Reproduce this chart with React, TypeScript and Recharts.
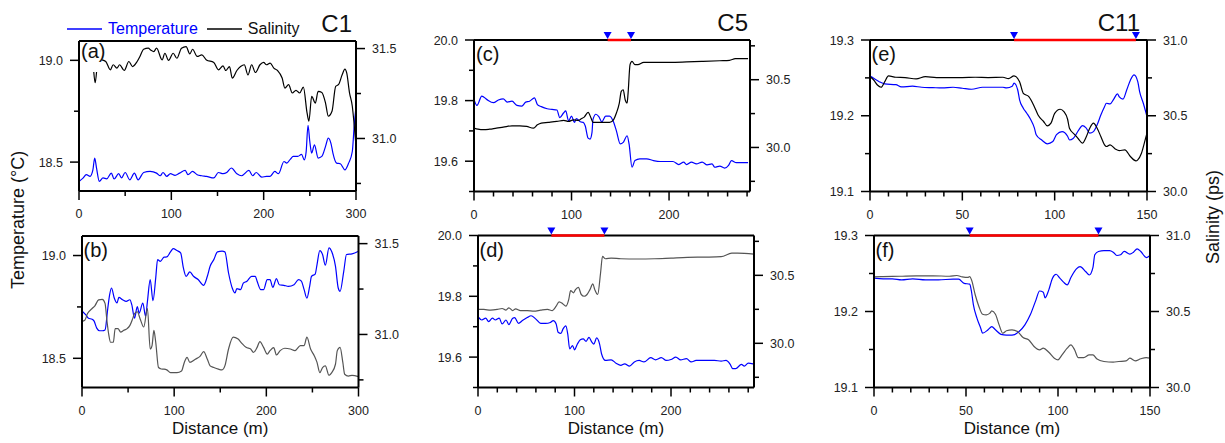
import React from 'react';
import { LineChart, Line, XAxis, YAxis, ReferenceLine, ReferenceDot, Legend } from 'recharts';

type Pt = [number, number | null];

const FONT = '"Liberation Sans", Arial, Helvetica, sans-serif';
const BLUE = '#0000ff';

// ---- C1 ----
const aTemp: Pt[] = [
  [0, 18.405], [4, 18.42], [8, 18.438], [12, 18.43], [15, 18.46], [17, 18.52], [19, 18.47], [22, 18.405],
  [26, 18.422], [30, 18.418], [35, 18.446], [38, 18.417], [43, 18.443], [46, 18.422], [50, 18.449], [55, 18.413],
  [60, 18.446], [64, 18.413], [70, 18.449], [77, 18.454], [84, 18.446], [88, 18.433], [91, 18.449], [95, 18.43],
  [99, 18.443], [104, 18.435], [109, 18.446], [115, 18.459], [118, 18.438], [123, 18.454], [128, 18.438],
  [133, 18.433], [138, 18.43], [146, 18.422], [151, 18.449], [156, 18.443], [160, 18.449], [165, 18.471],
  [171, 18.443], [176, 18.433], [184, 18.459], [188, 18.433], [192, 18.449], [198, 18.426], [203, 18.43],
  [207, 18.43], [212, 18.454], [216, 18.443], [222, 18.503], [225, 18.495], [229, 18.515], [232, 18.528],
  [237, 18.528], [241, 18.538], [244, 18.511], [246, 18.55], [248, 18.68], [250, 18.6], [252, 18.544],
  [255, 18.585], [259, 18.52], [263, 18.528], [267, 18.577], [270, 18.618], [273, 18.59], [275, 18.544],
  [279, 18.495], [283, 18.492], [288, 18.462], [292, 18.495], [296, 18.552], [298, 18.675], [300, 18.773],
];
const aSal: Pt[] = [
  [16, 31.37], [17.5, 31.31], [19, 31.37], [21, null],
  [25, 31.437], [29, 31.428], [34, 31.382], [37, 31.41], [41, 31.391], [44, 31.41], [49, 31.378], [54, 31.428],
  [58, 31.4], [63, 31.428], [66, 31.456], [70, 31.496], [75, 31.502], [78, 31.49], [81, 31.483], [84, 31.502],
  [90, 31.437], [93, 31.474], [97, 31.434], [102, 31.474], [106, 31.446], [111, 31.502], [116, 31.511],
  [120, 31.47], [123, 31.496], [128, 31.456], [133, 31.465], [138, 31.437], [146, 31.423], [151, 31.382],
  [156, 31.404], [159, 31.378], [163, 31.4], [166, 31.336], [171, 31.378], [175, 31.4], [179, 31.41],
  [183, 31.354], [187, 31.41], [191, 31.367], [196, 31.41], [200, 31.423], [203, 31.41], [207, 31.419],
  [211, 31.391], [215, 31.378], [220, 31.336], [223, 31.28], [227, 31.299], [231, 31.253], [235, 31.268],
  [239, 31.253], [243, 31.286], [247, 31.142], [249, 31.096], [252, 31.234], [256, 31.197], [259, 31.262],
  [263, 31.256], [267, 31.197], [270, 31.124], [274, 31.151], [278, 31.29], [281, 31.299], [285, 31.354],
  [288, 31.386], [290, 31.363], [293, 31.253], [296, 31.179], [298, 31.077], [300, 30.958],
];
const bTemp: Pt[] = [
  [0, 18.731], [4, 18.712], [7, 18.695], [11, 18.69], [13, 18.682], [16, 18.647], [19, 18.634], [22, 18.634],
  [25, 18.638], [28, 18.744], [30, 18.81], [32, 18.842], [35, 18.793], [38, 18.769], [40, 18.796], [44, 18.785],
  [48, 18.777], [52, 18.785], [54, 18.761], [57, 18.695], [60, 18.752], [62, 18.72], [66, 18.769], [69, 18.704],
  [71, 18.777], [74, 18.883], [77, 18.78], [80, 18.891], [82, 18.98], [85, 18.972], [89, 18.992], [92, 18.993],
  [96, 19.018], [99, 19.034], [103, 19.024], [107, 19.013], [110, 18.94], [113, 18.899], [117, 18.92],
  [121, 18.899], [126, 18.883], [132, 18.855], [136, 18.899], [139, 18.948], [143, 18.98], [147, 19.018],
  [152, 19.021], [155, 19.018], [159, 18.915], [163, 18.842], [166, 18.818], [168, 18.839], [172, 18.834],
  [175, 18.866], [179, 18.875], [184, 18.899], [188, 18.899], [190, 18.875], [194, 18.834], [197, 18.834],
  [201, 18.883], [204, 18.883], [207, 18.845], [211, 18.888], [214, 18.858], [219, 18.855], [224, 18.85],
  [230, 18.858], [235, 18.883], [238, 18.875], [241, 18.834], [244, 18.793], [247, 18.85], [249, 18.899],
  [253, 18.91], [255, 18.956], [258, 19.024], [261, 19.005], [264, 18.953], [268, 19.037], [271, 19.018],
  [275, 18.948], [278, 18.842], [280, 18.826], [284, 18.923], [287, 19.005], [293, 19.008], [300, 19.021],
];
const bSal: Pt[] = [
  [0, 31.072], [3, 31.078], [6, 31.115], [11, 31.143], [14, 31.158], [18, 31.19], [22, 31.193], [25, 31.171],
  [27, 31.078], [29, 31.0], [31, 30.957], [34, 30.957], [36, 31.032], [39, 31.032], [42, 31.013], [45, 31.022],
  [49, 31.032], [52, 31.05], [55, 31.087], [57, 31.115], [60, 31.125], [63, 31.087], [67, 31.041], [71, 31.143],
  [74, 30.92], [76, 30.939], [78, 31.022], [80, 30.957], [83, 30.818], [86, 30.81], [89, 30.809], [92, 30.805],
  [96, 30.79], [103, 30.79], [108, 30.799], [111, 30.846], [114, 30.874], [117, 30.846], [123, 30.864],
  [128, 30.879], [132, 30.905], [136, 30.864], [139, 30.827], [143, 30.818], [148, 30.809], [152, 30.805],
  [155, 30.827], [159, 30.92], [164, 30.985], [169, 30.976], [174, 30.948], [178, 30.929], [183, 30.92],
  [186, 30.901], [190, 30.929], [193, 30.961], [197, 30.929], [201, 30.892], [204, 30.911], [208, 30.928],
  [211, 30.887], [215, 30.911], [220, 30.924], [226, 30.92], [231, 30.911], [237, 30.939], [241, 30.939],
  [244, 30.985], [248, 30.92], [252, 30.883], [255, 30.846], [258, 30.79], [261, 30.818], [264, 30.827],
  [268, 30.775], [271, 30.79], [275, 30.836], [277, 30.911], [280, 30.929], [283, 30.846], [285, 30.781],
  [289, 30.771], [293, 30.775], [300, 30.768],
];

// ---- C5 ----
const cTemp: Pt[] = [
  [0, 19.804], [3, 19.784], [8, 19.815], [13, 19.804], [20, 19.793], [25, 19.802], [30, 19.806], [34, 19.795],
  [39, 19.798], [44, 19.784], [49, 19.782], [53, 19.795], [57, 19.798], [62, 19.809], [65, 19.787], [69, 19.78],
  [75, 19.773], [80, 19.771], [85, 19.769], [88, 19.744], [92, 19.76], [94, 19.766], [97, 19.733], [100, 19.749],
  [103, 19.728], [105, 19.741], [109, 19.73], [112, 19.728], [114, 19.717], [117, 19.676], [119, 19.673],
  [121, 19.695], [122, 19.738], [125, 19.755], [128, 19.747], [131, 19.73], [135, 19.749], [139, 19.749],
  [143, 19.73], [146, 19.7], [150, 19.657], [153, 19.662], [157, 19.684], [159, 19.657], [162, 19.58],
  [165, 19.602], [170, 19.608], [177, 19.608], [184, 19.602], [191, 19.599], [198, 19.599], [204, 19.599],
  [210, 19.589], [215, 19.597], [218, 19.589], [223, 19.597], [228, 19.591], [234, 19.597], [239, 19.588],
  [244, 19.591], [247, 19.58], [252, 19.584], [257, 19.577], [261, 19.586], [264, 19.602], [269, 19.595],
  [275, 19.595], [281, 19.595],
];
const cSal: Pt[] = [
  [0, 30.143], [4, 30.135], [10, 30.131], [16, 30.135], [23, 30.143], [30, 30.15], [39, 30.16], [47, 30.16],
  [54, 30.155], [61, 30.143], [65, 30.167], [69, 30.18], [76, 30.185], [85, 30.192], [92, 30.2], [97, 30.192],
  [102, 30.204], [107, 30.2], [110, 30.212], [113, 30.224], [117, 30.259], [120, 30.217], [122, 30.185],
  [128, 30.185], [134, 30.185], [139, 30.185], [143, 30.204], [146, 30.254], [149, 30.328], [151, 30.414],
  [153, 30.426], [155, 30.352], [157, 30.328], [158, 30.401], [160, 30.611], [162, 30.635], [165, 30.611],
  [168, 30.611], [174, 30.628], [184, 30.628], [201, 30.628], [218, 30.631], [235, 30.635], [252, 30.64],
  [262, 30.643], [268, 30.655], [281, 30.655],
];
const dTemp: Pt[] = [
  [0, 19.733], [4, 19.722], [8, 19.728], [11, 19.717], [15, 19.728], [18, 19.722], [22, 19.728], [25, 19.709],
  [29, 19.722], [32, 19.707], [36, 19.728], [38, 19.73], [42, 19.711], [46, 19.72], [51, 19.73], [55, 19.736],
  [60, 19.725], [65, 19.711], [70, 19.711], [75, 19.714], [78, 19.72], [81, 19.709], [83, 19.682], [86, 19.678],
  [88, 19.692], [91, 19.703], [93, 19.676], [95, 19.627], [98, 19.638], [100, 19.624], [103, 19.643],
  [106, 19.657], [109, 19.66], [112, 19.652], [115, 19.665], [118, 19.649], [120, 19.643], [123, 19.663],
  [126, 19.643], [128, 19.611], [132, 19.589], [138, 19.591], [143, 19.58], [148, 19.573], [152, 19.578],
  [157, 19.57], [162, 19.584], [167, 19.589], [172, 19.584], [179, 19.598], [184, 19.591], [190, 19.598],
  [195, 19.589], [200, 19.592], [205, 19.6], [210, 19.591], [216, 19.595], [221, 19.584], [226, 19.589],
  [235, 19.589], [245, 19.589], [252, 19.587], [257, 19.589], [261, 19.578], [264, 19.562], [267, 19.562],
  [273, 19.576], [276, 19.57], [280, 19.58], [285, 19.578],
];
const dSal: Pt[] = [
  [0, 30.249], [6, 30.249], [13, 30.244], [20, 30.249], [25, 30.256], [29, 30.244], [32, 30.261], [36, 30.241],
  [39, 30.254], [44, 30.241], [51, 30.241], [58, 30.237], [65, 30.244], [72, 30.249], [77, 30.241], [81, 30.273],
  [84, 30.305], [88, 30.29], [91, 30.273], [94, 30.322], [96, 30.388], [99, 30.371], [101, 30.395], [104, 30.412],
  [107, 30.359], [110, 30.346], [113, 30.359], [116, 30.395], [119, 30.437], [121, 30.395], [124, 30.359],
  [127, 30.517], [129, 30.639], [132, 30.622], [138, 30.627], [148, 30.622], [165, 30.62], [183, 30.622],
  [200, 30.627], [217, 30.632], [235, 30.634], [252, 30.637], [263, 30.663], [269, 30.663], [286, 30.656],
];

// ---- C11 ----
const eTemp: Pt[] = [
  [0, 19.2525], [2, 19.2495], [5, 19.245], [8, 19.242], [14, 19.241], [17, 19.238], [23, 19.239], [28, 19.2376],
  [34, 19.2371], [39, 19.2367], [45, 19.2376], [50, 19.2363], [55, 19.235], [61, 19.2376], [66, 19.2376],
  [72, 19.2376], [74, 19.2367], [77, 19.239], [78, 19.243], [80, 19.234], [81, 19.221], [83, 19.21], [85, 19.203],
  [87, 19.195], [89, 19.184], [90, 19.175], [93, 19.168], [96, 19.163], [99, 19.166], [101, 19.175],
  [104, 19.179], [107, 19.173], [108, 19.168], [110, 19.17], [113, 19.181], [115, 19.187], [117, 19.184],
  [119, 19.177], [121, 19.179], [123, 19.188], [125, 19.201], [127, 19.212], [128, 19.2165], [130, 19.2156],
  [132, 19.222], [134, 19.229], [135, 19.225], [137, 19.222], [139, 19.234], [141, 19.247], [143, 19.254],
  [145, 19.245], [146, 19.232], [148, 19.2165], [150, 19.199],
];
const eSal: Pt[] = [
  [0, 30.758], [2, 30.736], [4, 30.703], [6, 30.688], [8, 30.725], [10, 30.763], [14, 30.754], [19, 30.752],
  [25, 30.743], [30, 30.758], [36, 30.752], [43, 30.752], [50, 30.752], [57, 30.754], [64, 30.752], [72, 30.754],
  [75, 30.745], [78, 30.763], [81, 30.725], [83, 30.648], [86, 30.626], [89, 30.56], [91, 30.505], [94, 30.462],
  [96, 30.433], [98, 30.451], [100, 30.516], [103, 30.543], [105, 30.527], [107, 30.477], [108, 30.418],
  [111, 30.374], [113, 30.345], [115, 30.319], [117, 30.358], [119, 30.418], [121, 30.451], [123, 30.418],
  [125, 30.363], [127, 30.308], [128, 30.297], [130, 30.308], [133, 30.279], [135, 30.27], [138, 30.275],
  [141, 30.231], [144, 30.202], [145, 30.209], [147, 30.253], [149, 30.341], [150, 30.385],
];
const fTemp: Pt[] = [
  [0, 19.2439], [5, 19.243], [10, 19.243], [15, 19.2417], [21, 19.243], [28, 19.2417], [35, 19.2417],
  [43, 19.2425], [46, 19.2425], [49, 19.237], [52, 19.236], [53, 19.226], [54, 19.209], [56, 19.191],
  [58, 19.178], [59, 19.1715], [62, 19.176], [64, 19.18], [66, 19.176], [69, 19.17], [72, 19.169], [75, 19.169],
  [79, 19.174], [82, 19.1825], [85, 19.196], [88, 19.215], [90, 19.227], [92, 19.2254], [93, 19.218],
  [95, 19.2285], [97, 19.2439], [99, 19.249], [101, 19.2439], [103, 19.2386], [105, 19.235], [107, 19.2447],
  [110, 19.256], [112, 19.259], [115, 19.2526], [117, 19.248], [119, 19.258], [120, 19.2746], [122, 19.279],
  [125, 19.28], [128, 19.28], [130, 19.278], [132, 19.2737], [134, 19.2746], [136, 19.279], [139, 19.2754],
  [141, 19.278], [143, 19.2825], [145, 19.279], [148, 19.271], [150, 19.2737],
];
const fSal: Pt[] = [
  [0, 30.728], [5, 30.73], [14, 30.732], [23, 30.735], [32, 30.735], [41, 30.732], [45, 30.737], [48, 30.728],
  [51, 30.724], [52, 30.73], [53, 30.708], [55, 30.61], [57, 30.533], [59, 30.482], [61, 30.478], [63, 30.489],
  [64, 30.504], [66, 30.482], [68, 30.412], [70, 30.357], [72, 30.373], [75, 30.379], [78, 30.368], [81, 30.329],
  [84, 30.314], [87, 30.27], [90, 30.248], [92, 30.259], [95, 30.232], [98, 30.193], [100, 30.182],
  [102, 30.211], [105, 30.259], [107, 30.281], [109, 30.248], [111, 30.197], [114, 30.197], [117, 30.215],
  [119, 30.215], [121, 30.189], [125, 30.171], [130, 30.167], [133, 30.171], [137, 30.175], [139, 30.193],
  [142, 30.175], [145, 30.189], [148, 30.197], [150, 30.193],
];

// front positions (distance, m) marked on top axis
const cFront = [137, 161];
const dFront = [76, 131];
const eFront = [78, 144];
const fFront = [52, 122];

// axis ticks
const c1XMajor = [0, 100, 200, 300];
const c1XMinor = [50, 150, 250];
const c5XMajor = [0, 100, 200];
const c5XMinor = [20, 40, 60, 80, 120, 140, 160, 180, 220, 240, 260, 280];
const c11XMajor = [0, 50, 100, 150];
const c11XMinor = [10, 20, 30, 40, 60, 70, 80, 90, 110, 120, 130, 140];
const c1TMajor = [18.5, 19.0];
const c1TMinor = [18.75];
const c1SMajor = [31.0, 31.5];
const c1SMinor = [30.75, 31.25];
const c5TMajor = [19.6, 19.8, 20.0];
const c5TMinor = [19.5, 19.7, 19.9];
const c5SMajor = [30.0, 30.5];
const c5SMinor = [29.75, 30.25, 30.75];
const c11TMajor = [19.1, 19.2, 19.3];
const c11TMinor = [19.15, 19.25];
const c11SMajor = [30.0, 30.5, 31.0];
const c11SMinor = [30.25, 30.75];

const legendOrder = ['Temperature', 'Salinity'];

const toRows = (pts: Pt[]) => pts.map(([d, v]) => ({ d, v }));
const has = (arr: number[], v: number) => arr.some((a) => Math.abs(a - v) < 1e-6);

type PanelCfg = {
  letter: string;
  box: [number, number, number, number];
  rowTop: number;
  xDomain: [number, number];
  xMajor: number[];
  xMinor: number[];
  tDomain: [number, number];
  tMajor: number[];
  tMinor: number[];
  sDomain: [number, number];
  sMajor: number[];
  sMinor: number[];
  temp: Pt[];
  sal: Pt[];
  salColor: string;
  front?: number[];
  xLabel?: boolean;
  legend?: boolean;
};

const AXW = 50;
const MAJ = 9;
const MIN = 5;

const renderLegend = (props: any) => {
  const items = [...(props.payload || [])].sort(
    (p: any, q: any) => legendOrder.indexOf(p.value) - legendOrder.indexOf(q.value),
  );
  return (
    <div style={{ display: 'flex', alignItems: 'center', fontSize: 16, lineHeight: '18px' }}>
      {items.map((e: any) => (
        <span key={e.value} style={{ display: 'flex', alignItems: 'center', marginRight: 9, color: e.color === '#000' ? '#111' : e.color }}>
          <svg width={35} height={4}>
            <line x1={0} y1={2} x2={35} y2={2} stroke={e.color} strokeWidth={1.3} />
          </svg>
          <span style={{ marginLeft: 6 }}>{e.value}</span>
        </span>
      ))}
    </div>
  );
};

function Panel({ cfg }: { cfg: PanelCfg }) {
  const [l, t, r, b] = cfg.box;
  const xH = cfg.xLabel ? 55 : 35;
  const plotW = r - l;
  const plotL = AXW;
  const plotR = AXW + plotW;
  const plotB = b - cfg.rowTop;
  const width = plotW + AXW * 2;
  const height = plotB + xH;
  const xTicks = [...cfg.xMajor, ...cfg.xMinor].sort((p, q) => p - q);
  const tTicks = [...cfg.tMajor, ...cfg.tMinor].sort((p, q) => p - q);
  const sTicks = [...cfg.sMajor, ...cfg.sMinor].sort((p, q) => p - q);

  const xTick = (p: any) => {
    const v = p.payload.value;
    const major = has(cfg.xMajor, v);
    return (
      <g>
        <line x1={p.x} x2={p.x} y1={plotB} y2={plotB + (major ? MAJ : MIN)} stroke="#000" strokeWidth={1.5} />
        {major && (
          <text x={p.x} y={plotB + 27} textAnchor="middle" fontSize={12.5} fill="#222">
            {v}
          </text>
        )}
      </g>
    );
  };
  const tTick = (p: any) => {
    const v = p.payload.value;
    const major = has(cfg.tMajor, v);
    return (
      <g>
        <line x1={plotL} x2={plotL - (major ? MAJ : MIN)} y1={p.y} y2={p.y} stroke="#000" strokeWidth={1.5} />
        {major && (
          <text x={plotL - 16} y={p.y + 4.5} textAnchor="end" fontSize={12.5} fill="#222">
            {v.toFixed(1)}
          </text>
        )}
      </g>
    );
  };
  const sTick = (p: any) => {
    const v = p.payload.value;
    const major = has(cfg.sMajor, v);
    return (
      <g>
        <line x1={plotR} x2={plotR + (major ? MAJ : MIN)} y1={p.y} y2={p.y} stroke="#000" strokeWidth={1.5} />
        {major && (
          <text x={plotR + 16} y={p.y + 4.5} textAnchor="start" fontSize={12.5} fill="#222">
            {v.toFixed(1)}
          </text>
        )}
      </g>
    );
  };
  const tri = (p: any) => (
    <path d={`M${p.cx - 4},${p.cy - 8} L${p.cx + 4},${p.cy - 8} L${p.cx},${p.cy - 1} Z`} fill={BLUE} />
  );
  const top = cfg.tDomain[1];

  return (
    <div style={{ position: 'absolute', left: l - AXW, top: cfg.rowTop }}>
      <LineChart width={width} height={height} margin={{ top: t - cfg.rowTop, right: 0, bottom: 0, left: 0 }}>
        <XAxis
          dataKey="d"
          type="number"
          domain={cfg.xDomain}
          allowDataOverflow
          ticks={xTicks}
          interval={0}
          tickLine={false}
          axisLine={{ stroke: '#000', strokeWidth: 2 }}
          height={xH}
          tick={xTick}
          label={cfg.xLabel ? { value: 'Distance (m)', position: 'insideBottom', offset: 9, fontSize: 17, fill: '#111' } : undefined}
        />
        <YAxis
          yAxisId="t"
          orientation="left"
          type="number"
          width={AXW}
          domain={cfg.tDomain}
          allowDataOverflow
          ticks={tTicks}
          interval={0}
          tickLine={false}
          axisLine={{ stroke: '#000', strokeWidth: 2 }}
          tick={tTick}
        />
        <YAxis
          yAxisId="s"
          orientation="right"
          type="number"
          width={AXW}
          domain={cfg.sDomain}
          allowDataOverflow
          ticks={sTicks}
          interval={0}
          tickLine={false}
          axisLine={{ stroke: '#000', strokeWidth: 2 }}
          tick={sTick}
        />
        <ReferenceLine yAxisId="t" y={top} stroke="#000" strokeWidth={2} />
        {cfg.legend && (
          <Legend
            layout="horizontal"
            verticalAlign="middle"
            align="center"
            content={renderLegend}
            wrapperStyle={{ left: 38, top: 20, width: 320 }}
          />
        )}
        <Line
          yAxisId="t"
          data={toRows(cfg.temp)}
          dataKey="v"
          name="Temperature"
          type="monotone"
          stroke={BLUE}
          strokeWidth={1.2}
          dot={false}
          activeDot={false}
          isAnimationActive={false}
        />
        <Line
          yAxisId="s"
          data={toRows(cfg.sal)}
          dataKey="v"
          name="Salinity"
          type="monotone"
          stroke={cfg.salColor}
          strokeWidth={1.2}
          dot={false}
          activeDot={false}
          connectNulls={false}
          isAnimationActive={false}
        />
        {cfg.front && (
          <ReferenceLine
            yAxisId="t"
            segment={[{ x: cfg.front[0], y: top }, { x: cfg.front[1], y: top }]}
            stroke="#ff0000"
            strokeWidth={2.5}
            ifOverflow="visible"
          />
        )}
        {cfg.front &&
          cfg.front.map((x) => (
            <ReferenceDot key={x} yAxisId="t" x={x} y={top} r={4} shape={tri} ifOverflow="visible" />
          ))}
      </LineChart>
    </div>
  );
}

const C1_T: [number, number] = [18.358, 19.095];
const C1_S: [number, number] = [30.708, 31.542];
const C5_T: [number, number] = [19.5, 20.0];
const C5_S: [number, number] = [29.675, 30.793];
const C11_T: [number, number] = [19.1, 19.3];
const C11_S: [number, number] = [30.0, 31.0];

const panels: PanelCfg[] = [
  { letter: '(a)', box: [79, 41, 356, 191], rowTop: 0, xDomain: [0, 300], xMajor: c1XMajor, xMinor: c1XMinor,
    tDomain: C1_T, tMajor: c1TMajor, tMinor: c1TMinor, sDomain: C1_S, sMajor: c1SMajor, sMinor: c1SMinor,
    temp: aTemp, sal: aSal, salColor: '#000', legend: true },
  { letter: '(c)', box: [474, 40, 750, 191.5], rowTop: 0, xDomain: [0, 283], xMajor: c5XMajor, xMinor: c5XMinor,
    tDomain: C5_T, tMajor: c5TMajor, tMinor: c5TMinor, sDomain: C5_S, sMajor: c5SMajor, sMinor: c5SMinor,
    temp: cTemp, sal: cSal, salColor: '#000', front: cFront },
  { letter: '(e)', box: [869.5, 40, 1146.5, 191.5], rowTop: 0, xDomain: [0, 150], xMajor: c11XMajor, xMinor: c11XMinor,
    tDomain: C11_T, tMajor: c11TMajor, tMinor: c11TMinor, sDomain: C11_S, sMajor: c11SMajor, sMinor: c11SMinor,
    temp: eTemp, sal: eSal, salColor: '#000', front: eFront },
  { letter: '(b)', box: [81.5, 236, 358, 387.5], rowTop: 205, xDomain: [0, 300], xMajor: c1XMajor, xMinor: c1XMinor,
    tDomain: C1_T, tMajor: c1TMajor, tMinor: c1TMinor, sDomain: C1_S, sMajor: c1SMajor, sMinor: c1SMinor,
    temp: bTemp, sal: bSal, salColor: '#555', xLabel: true },
  { letter: '(d)', box: [477.5, 235.5, 753.5, 387.5], rowTop: 205, xDomain: [0, 286], xMajor: c5XMajor, xMinor: c5XMinor,
    tDomain: C5_T, tMajor: c5TMajor, tMinor: c5TMinor, sDomain: C5_S, sMajor: c5SMajor, sMinor: c5SMinor,
    temp: dTemp, sal: dSal, salColor: '#555', front: dFront, xLabel: true },
  { letter: '(f)', box: [873.5, 235.5, 1149.5, 387.5], rowTop: 205, xDomain: [0, 150], xMajor: c11XMajor, xMinor: c11XMinor,
    tDomain: C11_T, tMajor: c11TMajor, tMinor: c11TMinor, sDomain: C11_S, sMajor: c11SMajor, sMinor: c11SMinor,
    temp: fTemp, sal: fSal, salColor: '#555', front: fFront, xLabel: true },
];

const titles = [
  { text: 'C1', x: 352, y: 32 },
  { text: 'C5', x: 748, y: 31 },
  { text: 'C11', x: 1140, y: 31 },
];

export default function App() {
  return (
    <div style={{ position: 'absolute', left: 0, top: 0, width: 1225, height: 443, background: '#fff', fontFamily: FONT, overflow: 'hidden' }}>
      {panels.map((cfg) => (
        <Panel key={cfg.letter} cfg={cfg} />
      ))}
      <svg width={1225} height={443} style={{ position: 'absolute', left: 0, top: 0, pointerEvents: 'none' }}>
        {panels.map((cfg) => (
          <text key={cfg.letter} x={cfg.box[0] + 2} y={cfg.box[1] + (cfg.letter === '(a)' ? 17 : 21)} fontSize={20} fill="#111">
            {cfg.letter}
          </text>
        ))}
        {titles.map((tt) => (
          <text key={tt.text} x={tt.x} y={tt.y} textAnchor="end" fontSize={24} fill="#111">
            {tt.text}
          </text>
        ))}
        <text transform="translate(24,220) rotate(-90)" textAnchor="middle" fontSize={18} fill="#111">
          Temperature (°C)
        </text>
        <text transform="translate(1219,217) rotate(-90)" textAnchor="middle" fontSize={18} fill="#111">
          Salinity (ps)
        </text>
      </svg>
    </div>
  );
}
